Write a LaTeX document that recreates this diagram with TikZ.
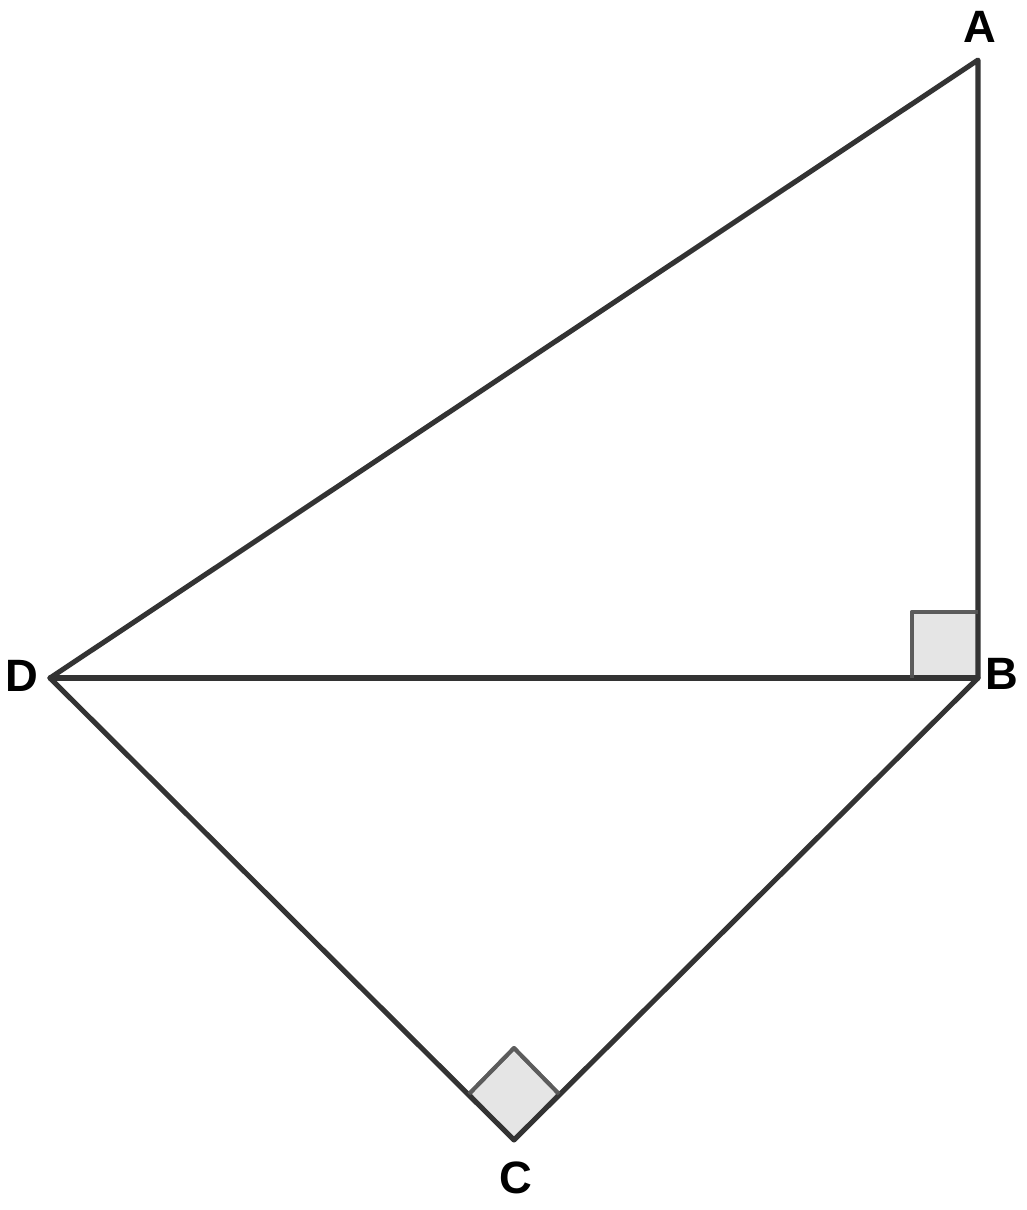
\documentclass[tikz,border=0pt]{standalone}
\usepackage{fontspec}
\setmainfont{Liberation Sans}
\begin{document}
\begin{tikzpicture}[x=0.75pt,y=-0.75pt,
  edge/.style={draw=black!80,line width=3.8pt,line cap=round,line join=round},
  rightmark/.style={draw=black!65,draw opacity=0.85,fill=black!10,line width=3pt,line join=round},
  lab/.style={font=\bfseries\fontsize{34}{40}\selectfont,inner sep=0pt}]
\useasboundingbox (0,0) rectangle (1027,1210);
\coordinate (A) at (978,60);
\coordinate (B) at (978,678);
\coordinate (C) at (514,1140);
\coordinate (D) at (50,678);
\draw[rightmark] (B) -- (912,678) -- (912,612) -- (978,612) -- cycle;
\draw[rightmark] (C) -- (469,1094) -- (514,1048) -- (559,1094) -- cycle;
\draw[edge] (A) -- (B) -- (C) -- (D) -- cycle;
\draw[edge] (D) -- (B);
\draw[rightmark,fill=none] (912,678) -- (912,612) -- (978,612);
\draw[rightmark,fill=none] (469,1094) -- (514,1048) -- (559,1094);
\node[lab] (lA) at (980,27) {A};
\node[lab] (lB) at (1002,674) {B};
\node[lab] (lC) at (516,1178) {C};
\node[lab] (lD) at (22,676) {D};
\end{tikzpicture}
\end{document}
